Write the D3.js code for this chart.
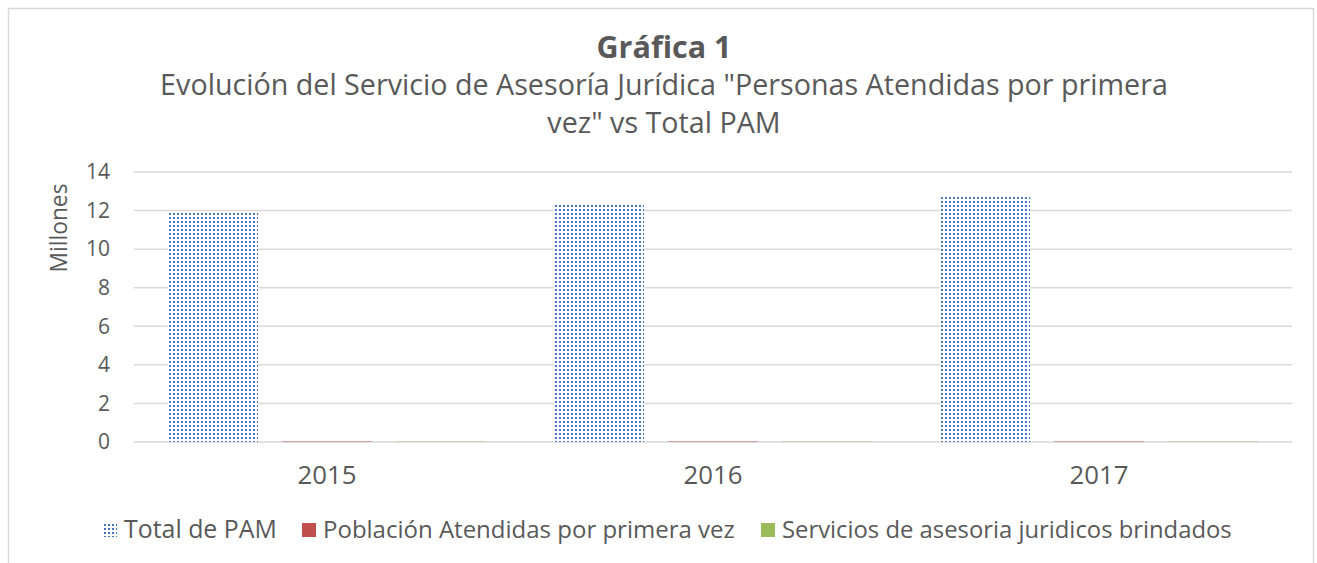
<!DOCTYPE html>
<html>
<head>
<meta charset="utf-8">
<script src="https://cdn.jsdelivr.net/npm/d3@7"></script>
<style>
body{margin:0;background:#fff;}
text{font-family:"Open Sans", sans-serif;fill:#595959;}
</style>
</head>
<body>
<div id="chart"></div>
<script>
(function(){
var width = 1317,
	height = 563,
	margin = {top:172,bottom:121,left:134,right:25};

// data (millones)
var years = ["2015","2016","2017"];
var series = ["Total de PAM","Población Atendidas por primera vez","Servicios de asesoria juridicos brindados"];
var totalPAM = [11.9, 12.29, 12.7];
var poblacion = [0.05, 0.05, 0.05];
var servicios = [0.04, 0.04, 0.04];
var yTicks = [0,2,4,6,8,10,12,14];
var colors = ["#4472C4","#C0504D","#9BBB59"];

var values = [totalPAM, poblacion, servicios];

// shrink/grow font so the text takes the width it has in the picture
function fit(sel, w){
	sel.each(function(){
		var fs = parseFloat(d3.select(this).attr("font-size"));
		var l = this.getComputedTextLength();
		d3.select(this).attr("font-size", (fs*w/l).toFixed(2)+"px");
	});
}

var svg = d3.select("#chart").append("svg")
	.attr("width",width)
	.attr("height",height);

var defs = svg.append("defs");
var pat = defs.append("pattern").attr("id","dots")
	.attr("patternUnits","userSpaceOnUse")
	.attr("width",4).attr("height",4);
pat.append("rect").attr("width",4).attr("height",4).attr("fill","#fff");
pat.append("rect").attr("x",1).attr("y",1).attr("width",2).attr("height",2).attr("fill",colors[0]);

// outer border
svg.append("rect").attr("x",8.5).attr("y",8.5).attr("width",1305).attr("height",600)
	.attr("fill","none").attr("stroke","#D9D9D9").attr("stroke-width",1.5);

var x0 = d3.scaleBand().domain(years).range([margin.left,width-margin.right])
	.paddingInner(0.176).paddingOuter(0.088);
var x1 = d3.scaleBand().domain(d3.range(series.length)).range([0,x0.bandwidth()])
	.paddingInner(0.21).paddingOuter(0);
var y = d3.scaleLinear().domain([0,14]).range([height-margin.bottom,margin.top]);

// grid
svg.append("g").selectAll("line").data(yTicks).enter().append("line")
	.attr("x1",margin.left).attr("x2",width-margin.right)
	.attr("y1",function(d){return y(d);}).attr("y2",function(d){return y(d);})
	.attr("stroke","#D9D9D9").attr("stroke-width",1.5);

// y axis labels
var yAxis = d3.axisLeft(y).tickValues(yTicks).tickSize(0).tickPadding(0);
var gy = svg.append("g").attr("transform","translate(110,0)").call(yAxis);
gy.select(".domain").remove();
gy.selectAll("text").attr("font-size","21px").attr("fill","#595959")
	.style("font-family","'Open Sans', sans-serif");

svg.append("text").attr("transform","translate(67,228) rotate(-90)")
	.attr("text-anchor","middle").attr("font-size","21px").text("Millones")
	.call(fit, 89);

// bars
var groups = svg.append("g").selectAll("g").data(years).enter().append("g")
	.attr("transform",function(d){return "translate("+x0(d)+",0)";});
groups.selectAll("rect").data(function(d,i){
		return values.map(function(v,j){return {s:j, v:v[i]};});
	}).enter().append("rect")
	.attr("x",function(d){return x1(d.s);})
	.attr("width",x1.bandwidth())
	.attr("y",function(d){return y(d.v);})
	.attr("height",function(d){return y(0)-y(d.v);})
	.attr("fill",function(d){return d.s==0 ? "url(#dots)" : colors[d.s];})
	.attr("opacity",function(d){return d.s==0 ? 1 : 0.45;});

// x axis labels
var xAxis = d3.axisBottom(x0).tickSize(0).tickPadding(0);
var gx = svg.append("g").attr("transform","translate(0,"+(y(0)+20)+")").call(xAxis);
gx.select(".domain").remove();
gx.selectAll("text").attr("font-size","21px").attr("fill","#595959").attr("dy","0.85em")
	.style("font-family","'Open Sans', sans-serif")
	.call(fit, 59);

// title
svg.append("text").attr("x",664).attr("y",58).attr("text-anchor","middle")
	.attr("font-size","27px").attr("font-weight","bold").text("Gráfica 1")
	.call(fit, 135);
var sub1 = svg.append("text").attr("x",664).attr("y",95).attr("text-anchor","middle")
	.attr("font-size","26px").text("Evolución del Servicio de Asesoría Jurídica \"Personas Atendidas por primera")
	.call(fit, 1008);
svg.append("text").attr("x",664).attr("y",133).attr("text-anchor","middle")
	.attr("font-size",sub1.attr("font-size")).text("vez\" vs Total PAM");

// legend
var legX = [103,302,761],
	legW = [153,412,450];
var leg = svg.append("g").selectAll("g").data(series).enter().append("g")
	.attr("transform",function(d,i){return "translate("+legX[i]+",523)";});
leg.append("rect").attr("width",14).attr("height",14)
	.attr("fill",function(d,i){return i==0 ? "url(#dots)" : colors[i];});
leg.append("text").attr("x",21).attr("y",15).attr("font-size","22px").text(function(d){return d;})
	.each(function(d,i){ d3.select(this).call(fit, legW[i]); });
})()
</script>
</body>
</html>
